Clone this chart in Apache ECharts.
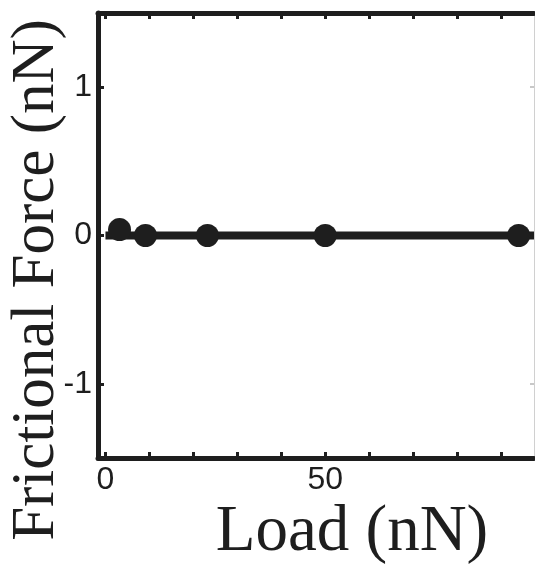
<!DOCTYPE html>
<html>
<head>
<meta charset="utf-8">
<script src="https://cdn.jsdelivr.net/npm/echarts@6/dist/echarts.min.js"></script>
<style>
  html, body { margin: 0; padding: 0; background: #fff; }
  #chart { width: 535px; height: 565px; }
</style>
</head>
<body>
<div id="chart"></div>
<script>
const loads = [3.2, 9.1, 23.2, 50, 94]
const friction = [0.04, 0.0, 0.0, 0.0, 0.0]
const fitLine = [[0, 0], [97.5, 0]]
const xMinorTicks = [0, 10, 20, 30, 40, 50, 60, 70, 80, 90]
const xTickLabels = [0, 50]
const yTicks = [-1, 0, 1]

const INK = '#1e1e1e'
const tickFont = { fontFamily: 'Liberation Sans', fontSize: 32, color: INK }

const chart = echarts.init(document.getElementById('chart'))

const xBase = {
  type: 'value',
  min: -1.7,
  max: 97.5,
  splitLine: { show: false },
  axisLine: { show: true, onZero: false, lineStyle: { color: INK, width: 5 } },
  axisTick: { show: true, inside: true, length: 6, lineStyle: { color: INK, width: 3 }, customValues: xMinorTicks }
}
const yBase = {
  type: 'value',
  min: -1.5,
  max: 1.5,
  splitLine: { show: false },
  axisLine: { show: true, onZero: false, lineStyle: { color: INK, width: 5 } },
  axisTick: { show: true, inside: true, length: 6, lineStyle: { color: INK, width: 3 }, customValues: yTicks }
}

chart.setOption({
  animation: false,
  grid: { left: 98, right: 1, top: 13, bottom: 107 },
  xAxis: [
    Object.assign({}, xBase, {
      position: 'bottom',
      axisLabel: Object.assign({ margin: 6, customValues: xTickLabels }, tickFont)
    }),
    Object.assign({}, xBase, {
      position: 'top',
      axisLabel: { show: false }
    })
  ],
  yAxis: [
    Object.assign({}, yBase, {
      position: 'left',
      axisLabel: Object.assign({ margin: 6, customValues: yTicks }, tickFont)
    }),
    Object.assign({}, yBase, {
      position: 'right',
      axisLine: { show: true, onZero: false, lineStyle: { color: '#d0d0d0', width: 1 } },
      axisTick: { show: true, inside: true, length: 4, lineStyle: { color: '#c8c8c8', width: 2 }, customValues: yTicks },
      axisLabel: { show: false }
    })
  ],
  graphic: [
    {
      type: 'text',
      x: 37,
      y: 280,
      rotation: Math.PI / 2,
      style: {
        text: 'Frictional Force (nN)',
        font: '61px "Liberation Serif"',
        fill: INK,
        textAlign: 'center',
        textVerticalAlign: 'middle'
      }
    },
    {
      type: 'text',
      x: 352,
      y: 533,
      style: {
        text: 'Load (nN)',
        font: '65px "Liberation Serif"',
        fill: INK,
        textAlign: 'center',
        textVerticalAlign: 'middle'
      }
    }
  ],
  series: [
    {
      type: 'line',
      data: fitLine,
      symbol: 'none',
      lineStyle: { color: INK, width: 8 },
      z: 2
    },
    {
      type: 'scatter',
      data: loads.map((x, i) => [x, friction[i]]),
      symbol: 'circle',
      symbolSize: 23,
      itemStyle: { color: INK, opacity: 1 },
      z: 3
    }
  ]
})
</script>
</body>
</html>
